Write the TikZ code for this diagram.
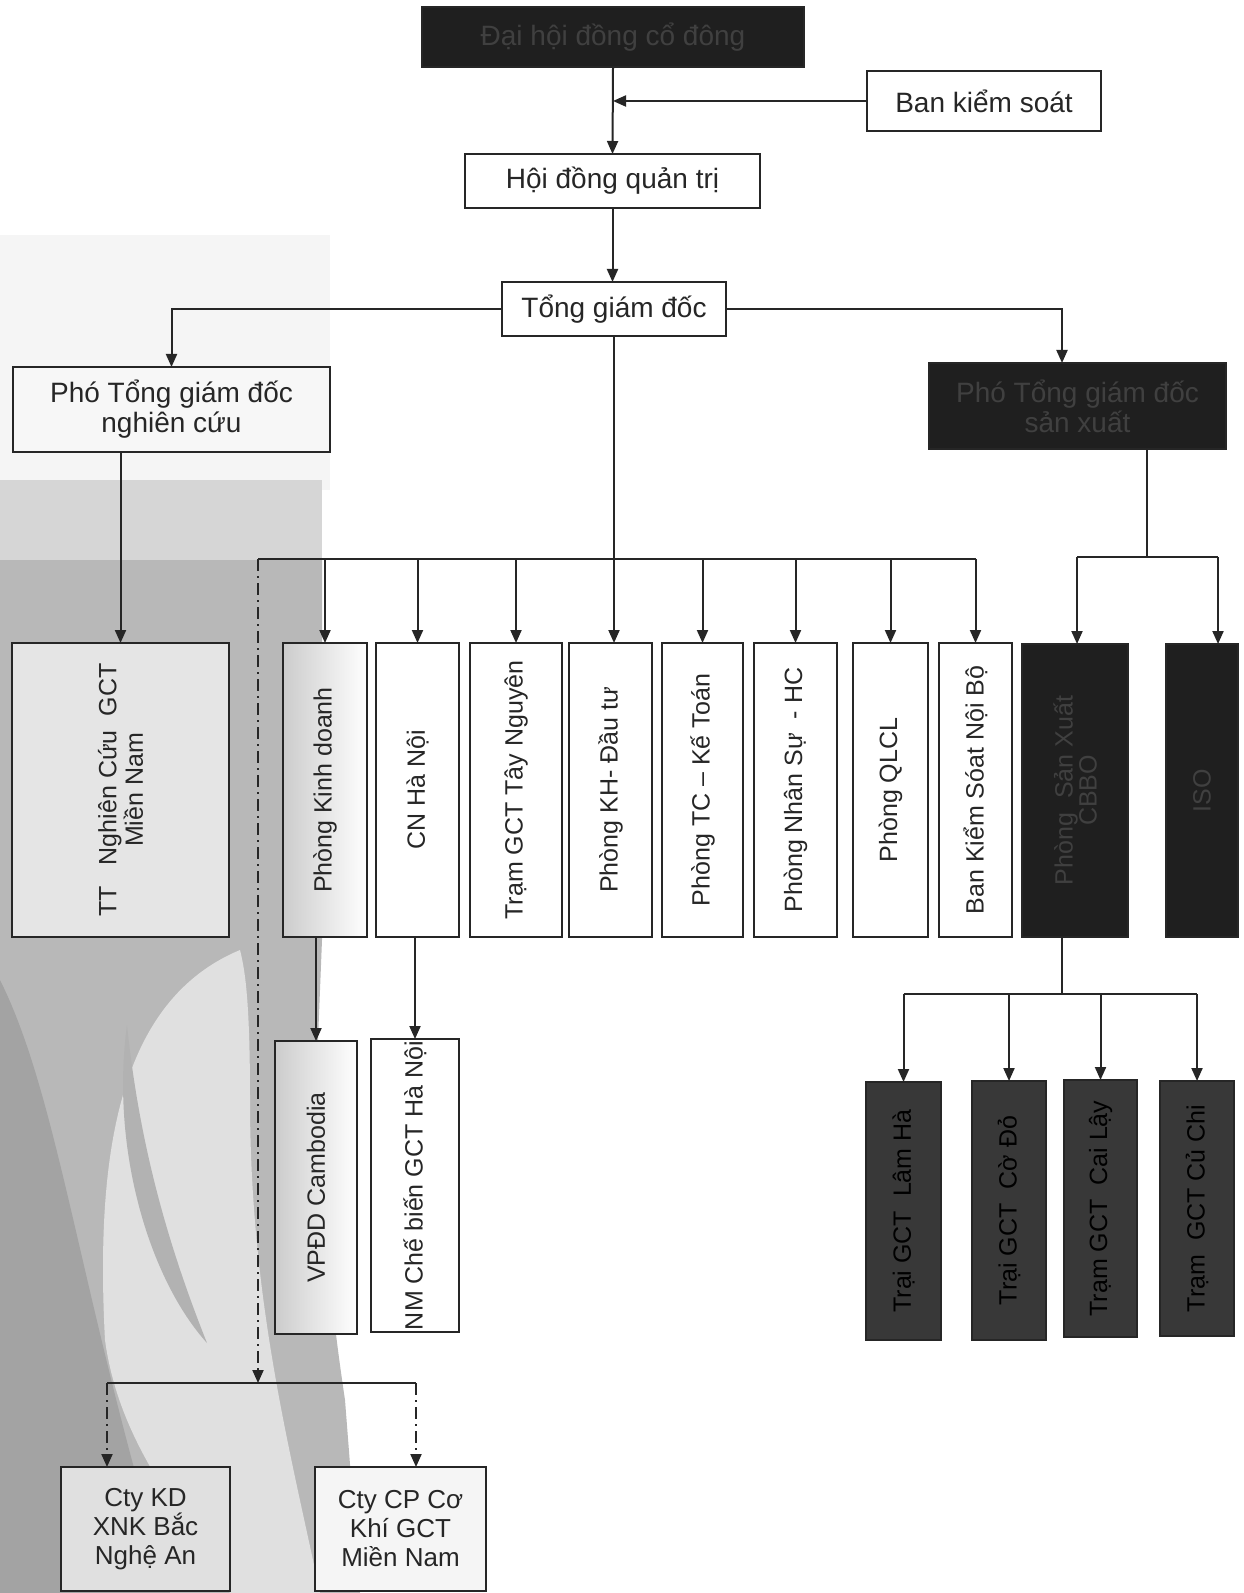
\documentclass[tikz,border=0pt]{standalone}
\usepackage{fontspec}
\setmainfont{Liberation Sans}
\usetikzlibrary{arrows.meta}
\newcommand\mybox[7]{\node[#6, minimum width={(#4-#2)*0.5pt}, minimum height={(#5-#3)*0.5pt}] (#1) at ({(#2+#4)/2},{(#3+#5)/2}) {#7};}
\tikzset{
 bx/.style={draw=black!85, line width=1pt, inner sep=0pt, outer sep=0pt, fill=white, font=\fontsize{14}{15}\selectfont, text=black!85, align=center},
 dk/.style={bx, fill=black!88, text=black!75},
 md/.style={bx, fill=black!78, text=black},
 vt/.style={rotate=90, font=\fontsize{12.5}{15}\selectfont, text=black!85, align=center, inner sep=0pt},
 arr/.style={draw=black!85, line width=1pt, -{Triangle[length=6.5pt,width=5.5pt]}},
 ln/.style={draw=black!85, line width=1pt},
 dd/.style={dash pattern=on 6pt off 2.5pt on 1pt off 2.5pt}
}
\begin{document}
\begin{tikzpicture}[x=0.5pt,y=-0.5pt]
\useasboundingbox (0,0) rectangle (1243,1593);
\fill[white] (0,0) rectangle (1243,1593);
% background
\fill[black!4] (0,235) rectangle (330,490);
\fill[black!16] (0,480) rectangle (322,600);
\fill[black!28] (0,560) -- (322,560) -- (322,940) -- (318,1040) .. controls (320,1200) and (330,1300) .. (345,1400) -- (360,1593) -- (0,1593) -- cycle;
\fill[black!36] (0,980) .. controls (60,1100) and (80,1300) .. (170,1593) -- (0,1593) -- cycle;
\fill[black!12] (240,950) .. controls (120,1000) and (95,1150) .. (105,1340) .. controls (120,1450) and (190,1520) .. (230,1593) -- (320,1593) .. controls (290,1450) and (250,1300) .. (250,1100) .. controls (250,1000) and (245,970) .. (240,950) -- cycle;
\fill[black!30] (127,1025) .. controls (110,1150) and (150,1280) .. (207,1343) .. controls (170,1250) and (140,1150) .. (127,1025) -- cycle;

% boxes
\mybox{dh}{422}{7}{804}{67}{dk}{Đại hội đồng cổ đông}
\mybox{bks}{867}{71}{1101}{131}{bx}{Ban kiểm soát}
\mybox{hd}{465}{154}{760}{208}{bx}{Hội đồng quản trị}
\mybox{tgd}{502}{282}{726}{336}{bx}{Tổng giám đốc}
\mybox{pnc}{13}{367}{330}{452}{bx,fill=black!3}{Phó Tổng giám đốc\\nghiên cứu}
\mybox{psx}{929}{363}{1226}{449}{dk}{Phó Tổng giám đốc\\sản xuất}

\mybox{tt}{12}{643}{229}{937}{bx,fill=black!10}{}
\mybox{kd}{283}{643}{367}{937}{bx,left color=black!20,right color=white}{}
\mybox{cn}{376}{643}{459}{937}{bx}{}
\mybox{tn}{470}{643}{562}{937}{bx}{}
\mybox{kh}{569}{643}{652}{937}{bx}{}
\mybox{tc}{662}{643}{743}{937}{bx}{}
\mybox{ns}{754}{643}{837}{937}{bx}{}
\mybox{ql}{853}{643}{928}{937}{bx}{}
\mybox{bn}{939}{643}{1012}{937}{bx}{}
\mybox{sx}{1022}{644}{1128}{937}{dk}{}
\mybox{iso}{1166}{644}{1238}{937}{dk}{}

\mybox{vp}{275}{1041}{357}{1334}{bx,left color=black!20,right color=white}{}
\mybox{nm}{371}{1039}{459}{1332}{bx}{}
\mybox{lh}{866}{1082}{941}{1340}{md}{}
\mybox{cd}{972}{1081}{1046}{1340}{md}{}
\mybox{cl}{1064}{1080}{1137}{1337}{md}{}
\mybox{cc}{1160}{1081}{1234}{1336}{md}{}

\mybox{ckd}{61}{1467}{230}{1591}{bx,fill=black!12,font=\fontsize{13}{14.5}\selectfont}{Cty KD\\XNK Bắc\\Nghệ An}
\mybox{ccp}{315}{1467}{486}{1591}{bx,fill=black!4,font=\fontsize{13}{14.5}\selectfont}{Cty CP Cơ\\Khí GCT\\Miền Nam}

% vertical texts
\node[vt,font=\fontsize{12.5}{12}\selectfont] (ttt) at (tt.center) {TT~~~Nghiên Cứu~~GCT\\Miền Nam};
\node[vt] (kdt) at (kd.center) {Phòng Kinh doanh};
\node[vt] (cnt) at (cn.center) {CN Hà Nội};
\node[vt] (tnt) at (tn.center) {Trạm GCT Tây Nguyên};
\node[vt] (kht) at (kh.center) {Phòng KH- Đầu tư};
\node[vt] (tct) at (tc.center) {Phòng TC – Kế Toán};
\node[vt] (nst) at (ns.center) {Phòng Nhân Sự~~- HC};
\node[vt] (qlt) at (ql.center) {Phòng QLCL};
\node[vt] (bnt) at (bn.center) {Ban Kiểm Sóat Nội Bộ};
\node[vt,text=black!75,font=\fontsize{12.5}{12}\selectfont] (sxt) at (sx.center) {Phòng~~Sản Xuất\\CBBO};
\node[vt,text=black!75] (isot) at (iso.center) {ISO};
\node[vt] (vpt) at (vp.center) {VPĐD Cambodia};
\node[vt] (nmt) at (nm.center) {NM Chế biến GCT Hà Nội};
\node[vt,text=black] (lht) at (lh.center) {Trại GCT~~Lâm Hà};
\node[vt,text=black] (cdt) at (cd.center) {Trại GCT~~Cờ Đỏ};
\node[vt,text=black] (clt) at (cl.center) {Trạm GCT~~Cai Lậy};
\node[vt,text=black] (cct) at (cc.center) {Trạm~~GCT Củ Chi};

% connectors
\draw[arr] (dh.south) -- (hd.north);
\draw[arr] (bks.west) -- (bks.west -| dh.south);
\draw[arr] (hd.south) -- (hd.south |- tgd.north);
\draw[arr] (tgd.west) -| (pnc.north);
\coordinate (psxin) at (1062,363);
\draw[arr] (tgd.east) -| (psxin);
\draw[arr] (tt.north |- pnc.south) -- (tt.north);

\coordinate (busL) at (258,559);
\draw[arr] (tgd.south) -- (tgd.south |- kh.north);
\draw[ln] (busL) -- (busL -| bn.north);
\foreach \b in {kd,cn,tn,tc,ns,ql,bn} \draw[arr] (busL -| \b.north) -- (\b.north);
\draw[arr] (kd.south -| vp.north) -- (vp.north);
\draw[arr] (cn.south -| nm.north) -- (nm.north);

\coordinate (lbL) at (107,1383);
\coordinate (lbR) at (416,1383);
\draw[arr,dd] (busL) -- (busL |- lbL);
\draw[ln] (lbL) -- (lbR);
\draw[arr,dd] (lbL) -- (lbL |- ckd.north);
\draw[arr,dd] (lbR) -- (lbR |- ccp.north);

\coordinate (psxout) at (1147,449);
\coordinate (rbL) at (1077,557);
\coordinate (rbR) at (1218,557);
\draw[ln] (psxout) -- (psxout |- rbL);
\draw[ln] (rbL) -- (rbR);
\draw[arr] (rbL) -- (rbL |- sx.north);
\draw[arr] (rbR) -- (rbR |- iso.north);

\coordinate (sxout) at (1062,937);
\coordinate (tb) at (1062,994);
\draw[ln] (sxout) -- (tb);
\draw[ln] (tb -| lh.north) -- (tb -| cc.north);
\foreach \b in {lh,cd,cl,cc} \draw[arr] (tb -| \b.north) -- (\b.north);
\end{tikzpicture}
\end{document}
